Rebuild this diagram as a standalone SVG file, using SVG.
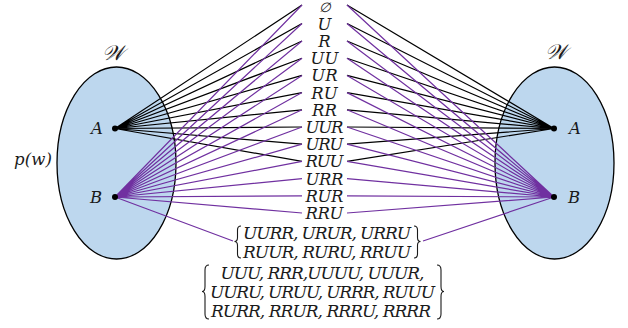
<svg xmlns="http://www.w3.org/2000/svg" width="628" height="328" viewBox="0 0 628 328">
<style>
.t{font-family:"DejaVu Serif","Liberation Serif",serif;font-style:italic;font-size:16.5px;fill:#1a1a1a}
.m{text-anchor:middle}
.s{font-size:17px}
.w{font-size:21px}
.k{stroke:#000;stroke-width:1.2;fill:none}
.p{stroke:#7030a0;stroke-width:1.2;fill:none}
.e{fill:#bdd7ee;stroke:#000;stroke-width:1.3}
.b{fill:none;stroke:#1a1a1a;stroke-width:1.1}
</style>
<rect width="628" height="328" fill="#fff"/>
<g id="world-left">
<ellipse class="e" cx="116.5" cy="163" rx="59.5" ry="96"/>
<text class="t m w" x="113" y="60">𝒲</text>
<text class="t" x="14" y="165" textLength="38">p(w)</text>
</g>
<g id="world-right">
<ellipse class="e" cx="554.5" cy="163" rx="59.5" ry="96"/>
<text class="t m w" x="556" y="59">𝒲</text>
</g>
<g id="connectors">
<path class="k" d="M115 128.5L302 5M115 128.5L302 23.5M115 128.5L302 41M115 128.5L302 58.2M115 128.5L302 75.4M115 128.5L302 92.6M115 128.5L302 109.8M115 128.5L302 127M115 128.5L302 144.2M115 128.5L302 161.4"/>
<path class="p" d="M115 197L302 5M115 197L302 23.5M115 197L302 41M115 197L302 58.2M115 197L302 75.4M115 197L302 92.6M115 197L302 109.8M115 197L302 127M115 197L302 144.2M115 197L302 161.4M115 197L302 178.6M115 197L302 195.8M115 197L302 213M115 197L233 241"/>
<path class="k" d="M347 5L554 128.5M347 23.5L554 128.5M347 41L554 128.5M347 58.2L554 128.5M347 75.4L554 128.5M347 92.6L554 128.5M347 109.8L554 128.5M347 127L554 128.5M347 144.2L554 128.5M347 161.4L554 128.5"/>
<path class="p" d="M347 5L554 197M347 23.5L554 197M347 41L554 197M347 58.2L554 197M347 75.4L554 197M347 92.6L554 197M347 109.8L554 197M347 127L554 197M347 144.2L554 197M347 161.4L554 197M347 178.6L554 197M347 195.8L554 197M347 213L554 197M423 241L554 197"/>
</g>
<g id="point-A-left"><circle cx="115" cy="128.5" r="3"/><text class="t m" x="97" y="134">A</text></g>
<g id="point-B-left"><circle cx="115" cy="197" r="3"/><text class="t m" x="96" y="202.5">B</text></g>
<g id="point-A-right"><circle cx="554" cy="128.5" r="3"/><text class="t m" x="575" y="134">A</text></g>
<g id="point-B-right"><circle cx="554" cy="197" r="3"/><text class="t m" x="574" y="202.5">B</text></g>
<g id="n-empty"><text class="t m" x="324.5" y="12" style="font-size:13.5px">∅</text></g>
<g id="n-U"><text class="t m" x="324.5" y="29.5">U</text></g>
<g id="n-R"><text class="t m" x="324.5" y="47">R</text></g>
<g id="n-UU"><text class="t m" x="324.5" y="64.2">UU</text></g>
<g id="n-UR"><text class="t m" x="324.5" y="81.4">UR</text></g>
<g id="n-RU"><text class="t m" x="324.5" y="98.6">RU</text></g>
<g id="n-RR"><text class="t m" x="324.5" y="115.8">RR</text></g>
<g id="n-UUR"><text class="t" x="305.5" y="133" textLength="38">UUR</text></g>
<g id="n-URU"><text class="t" x="305.5" y="150.2" textLength="38">URU</text></g>
<g id="n-RUU"><text class="t" x="305.5" y="167.4" textLength="38">RUU</text></g>
<g id="n-URR"><text class="t" x="305.5" y="184.6" textLength="38">URR</text></g>
<g id="n-RUR"><text class="t" x="305.5" y="201.8" textLength="38">RUR</text></g>
<g id="n-RRU"><text class="t" x="305.5" y="219" textLength="38">RRU</text></g>
<g id="n-set4">
<path class="b" d="M241 226Q237.5 226 237.5 230L237.5 237.5Q237.5 241.5 234.5 241.5Q237.5 241.5 237.5 245.5L237.5 254Q237.5 258 241 258"/>
<path class="b" d="M414 226Q417.5 226 417.5 230L417.5 237.5Q417.5 241.5 420.5 241.5Q417.5 241.5 417.5 245.5L417.5 254Q417.5 258 414 258"/>
<text class="t s" x="243" y="238.5" textLength="168">UURR, URUR, URRU</text>
<text class="t s" x="243" y="257.5" textLength="168">RUUR, RURU, RRUU</text>
</g>
<g id="n-set-rest">
<path class="b" d="M209 265Q205 265 205 270L205 286.5Q205 291.5 202 291.5Q205 291.5 205 296.5L205 314Q205 319 209 319"/>
<path class="b" d="M437 265Q441 265 441 270L441 286.5Q441 291.5 444 291.5Q441 291.5 441 296.5L441 314Q441 319 437 319"/>
<text class="t s" x="220.5" y="278.5" textLength="204">UUU, RRR,UUUU, UUUR,</text>
<text class="t s" x="210" y="298" textLength="225">UURU, URUU, URRR, RUUU</text>
<text class="t s" x="211" y="317" textLength="220">RURR, RRUR, RRRU, RRRR</text>
</g>
</svg>
